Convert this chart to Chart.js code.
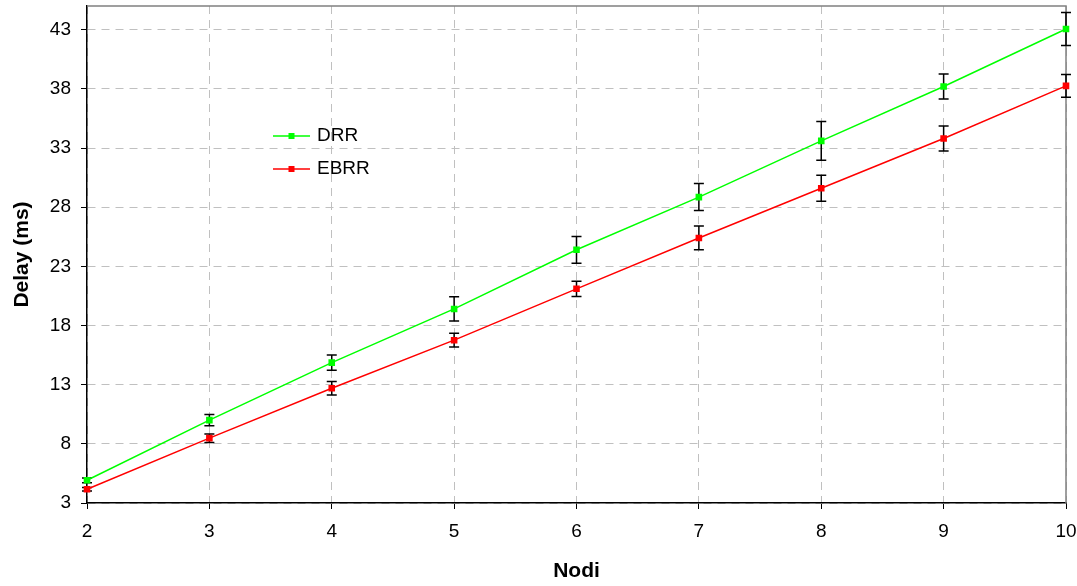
<!DOCTYPE html>
<html>
<head>
<meta charset="utf-8">
<script src="https://cdn.jsdelivr.net/npm/chart.js@4/dist/chart.umd.min.js"></script>
<style>
  html, body { margin: 0; padding: 0; background: #fff; }
  #wrap { width: 1077px; height: 586px; }
</style>
</head>
<body>
<div id="wrap"><canvas id="delayChart" width="1077" height="586"></canvas></div>
<script>
const nodes = [2, 3, 4, 5, 6, 7, 8, 9, 10];
const drrDelay = [4.92, 10.0, 14.86, 19.4, 24.4, 28.85, 33.6, 38.2, 43.06];
const drrErr = [0.2, 0.48, 0.64, 1.03, 1.13, 1.14, 1.64, 1.06, 1.4];
const ebrrDelay = [4.16, 8.48, 12.7, 16.76, 21.1, 25.4, 29.6, 33.8, 38.25];
const ebrrErr = [0.15, 0.36, 0.57, 0.58, 0.64, 1.0, 1.09, 1.06, 0.97];
const yTicks = [3, 8, 13, 18, 23, 28, 33, 38, 43];

const font = "'Liberation Sans', Arial, sans-serif";
const colors = { drr: '#00ff00', ebrr: '#ff0000', grid: '#c0c0c0', frame: '#808080' };

// gray frame on top/right, error bars behind the markers
const framePlugin = {
    id: 'frame',
    beforeDatasetsDraw(chart) {
        const { ctx, chartArea: a } = chart;
        ctx.save();
        ctx.strokeStyle = colors.frame;
        ctx.lineWidth = 1.5;
        ctx.beginPath();
        ctx.moveTo(a.left, a.top);
        ctx.lineTo(a.right, a.top);
        ctx.lineTo(a.right, a.bottom);
        ctx.stroke();

        const y = chart.scales.y;
        ctx.strokeStyle = '#000';
        ctx.lineWidth = 1.5;
        chart.data.datasets.forEach((ds, di) => {
            const meta = chart.getDatasetMeta(di);
            ds.errors.forEach((e, i) => {
                const px = meta.data[i].x;
                const top = y.getPixelForValue(ds.data[i] + e);
                const bot = y.getPixelForValue(ds.data[i] - e);
                ctx.beginPath();
                ctx.moveTo(px, top); ctx.lineTo(px, bot);
                ctx.moveTo(px - 5, top); ctx.lineTo(px + 5, top);
                ctx.moveTo(px - 5, bot); ctx.lineTo(px + 5, bot);
                ctx.stroke();
            });
        });
        ctx.restore();
    }
};

// legend sitting inside the plot
const legendPlugin = {
    id: 'innerLegend',
    afterDraw(chart) {
        const { ctx } = chart;
        ctx.save();
        ctx.font = `19px ${font}`;
        ctx.textBaseline = 'middle';
        chart.data.datasets.forEach((ds, i) => {
            const yy = 136 + i * 33;
            ctx.strokeStyle = ds.borderColor;
            ctx.lineWidth = 1.5;
            ctx.beginPath();
            ctx.moveTo(273, yy); ctx.lineTo(310, yy);
            ctx.stroke();
            ctx.fillStyle = ds.borderColor;
            ctx.fillRect(288.5, yy - 3, 6, 6);
            ctx.fillStyle = '#000';
            ctx.fillText(ds.label, 317, yy);
        });
        ctx.restore();
    }
};

new Chart(document.getElementById('delayChart'), {
    type: 'line',
    data: {
        labels: nodes,
        datasets: [
            { label: 'DRR', data: drrDelay, errors: drrErr, borderColor: colors.drr, backgroundColor: colors.drr,
              borderWidth: 1.5, pointStyle: 'rect', pointRadius: 3.6, tension: 0 },
            { label: 'EBRR', data: ebrrDelay, errors: ebrrErr, borderColor: colors.ebrr, backgroundColor: colors.ebrr,
              borderWidth: 1.5, pointStyle: 'rect', pointRadius: 3.6, tension: 0 }
        ]
    },
    options: {
        responsive: false,
        animation: false,
        layout: { padding: { top: 6, right: 11, left: 0, bottom: 0 } },
        plugins: { legend: { display: false }, tooltip: { enabled: false } },
        scales: {
            x: {
                offset: false,
                afterFit: s => { s.height = 83; s.paddingLeft = 0; s.paddingRight = 0; },
                grid: { color: colors.grid, tickColor: '#000', tickLength: 6, tickBorderDash: [] },
                border: { color: '#000', width: 1.5, dash: [8, 6] },
                ticks: { color: '#000', font: { family: font, size: 19 }, padding: 11, maxRotation: 0 },
                title: { display: true, text: 'Nodi', color: '#000', font: { family: font, size: 21, weight: 'bold' },
                         padding: { top: 0, bottom: 2 } }
            },
            y: {
                min: 3,
                max: 45,
                afterFit: s => { s.width = 87; s.paddingTop = 0; s.paddingBottom = 0; },
                afterBuildTicks: s => { s.ticks = yTicks.map(v => ({ value: v })); },
                grid: { color: colors.grid, tickColor: '#000', tickLength: 6, tickBorderDash: [] },
                border: { color: '#000', width: 1.5, dash: [8, 6] },
                ticks: { color: '#000', font: { family: font, size: 19 }, padding: 10 },
                title: { display: true, text: 'Delay (ms)', color: '#000', font: { family: font, size: 21, weight: 'bold' },
                         padding: { top: 10, bottom: 0 } }
            }
        }
    },
    plugins: [framePlugin, legendPlugin]
});
</script>
</body>
</html>
